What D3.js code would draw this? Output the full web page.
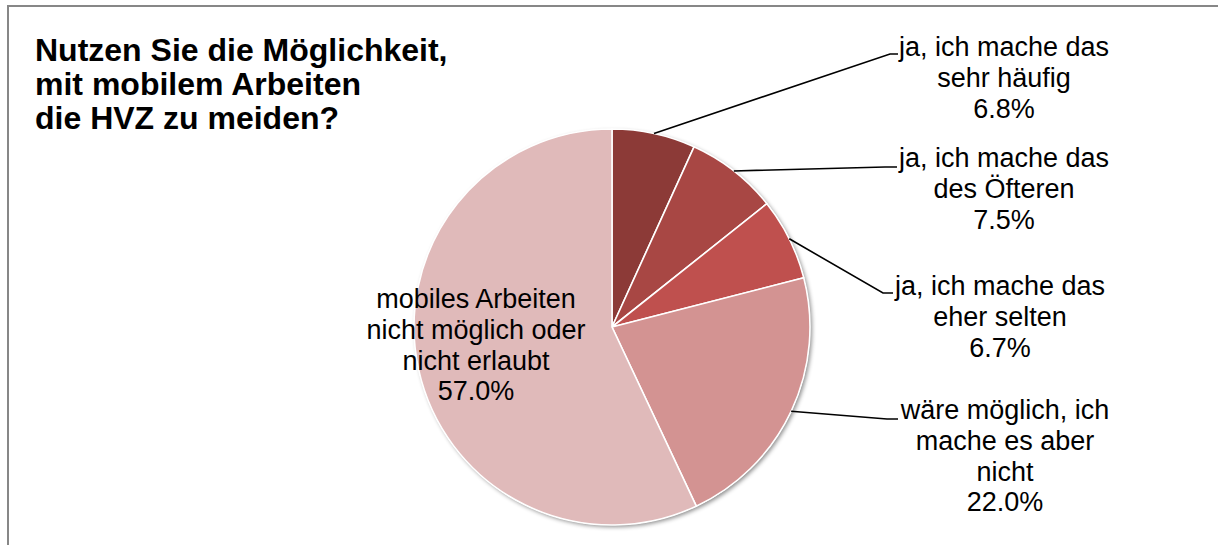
<!DOCTYPE html>
<html>
<head>
<meta charset="utf-8">
<script src="https://cdn.jsdelivr.net/npm/d3@7"></script>
<style>
  html, body { margin: 0; padding: 0; background: #fff; }
  svg { display: block; font-family: "Liberation Sans", Arial, sans-serif; }
</style>
</head>
<body>
<div id="chart"></div>
<script>
// data
var categories = [
  ["ja, ich mache das", "sehr häufig"],
  ["ja, ich mache das", "des Öfteren"],
  ["ja, ich mache das", "eher selten"],
  ["wäre möglich, ich", "mache es aber", "nicht"],
  ["mobiles Arbeiten", "nicht möglich oder", "nicht erlaubt"]
];
var shares = [6.8, 7.5, 6.7, 22.0, 57.0];
var colors = ["#8c3a37", "#a84744", "#bf504e", "#d39392", "#e0baba"];
var titleLines = ["Nutzen Sie die Möglichkeit,", "mit mobilem Arbeiten", "die HVZ zu meiden?"];

// label layout: x centre, first baseline, leader elbow (null = label inside)
var labelPos = [
  { x: 1004, y: 56, elbow: [890, 54], end: [898, 54] },
  { x: 1004, y: 167, elbow: [885, 167], end: [897, 167] },
  { x: 1000, y: 295, elbow: [883, 293], end: [893, 293] },
  { x: 1005, y: 419, elbow: [887, 419], end: [898, 419] },
  { x: 476, y: 308, elbow: null }
];

var width = 1218, height = 545;
var cx = 612, cy = 327, radius = 198;
var lineH = 30.8;

var svg = d3.select("#chart").append("svg")
    .attr("width", width)
    .attr("height", height);

var defs = svg.append("defs");
var f = defs.append("filter").attr("id", "shadow")
    .attr("x", "-10%").attr("y", "-10%").attr("width", "120%").attr("height", "120%");
f.append("feDropShadow")
    .attr("dx", 2).attr("dy", 2).attr("stdDeviation", 2)
    .attr("flood-color", "#000").attr("flood-opacity", 0.45);

// frame
svg.append("path")
    .attr("d", "M8," + height + "V6H" + width)
    .attr("fill", "none")
    .attr("stroke", "#878787")
    .attr("stroke-width", 2);

// title
var title = svg.append("text")
    .attr("x", 35)
    .attr("y", 61)
    .attr("font-size", 32)
    .attr("font-weight", "bold")
    .attr("fill", "#000");
title.selectAll("tspan").data(titleLines).enter().append("tspan")
    .attr("x", 35)
    .attr("dy", function (d, i) { return i === 0 ? 0 : 34; })
    .text(function (d) { return d; });

var data = shares.map(function (v, i) {
  return { value: v, lines: categories[i], color: colors[i], pos: labelPos[i] };
});

var pie = d3.pie().sort(null).value(function (d) { return d.value; });
var arcs = pie(data);
var arc = d3.arc().innerRadius(0).outerRadius(radius);
var edge = d3.arc().innerRadius(radius).outerRadius(radius);

var g = svg.append("g").attr("transform", "translate(" + cx + "," + cy + ")");

g.append("circle")
    .attr("r", radius)
    .attr("fill", "#fff")
    .attr("filter", "url(#shadow)");

g.selectAll(".slice").data(arcs).enter().append("path")
    .attr("class", "slice")
    .attr("d", arc)
    .attr("fill", function (d) { return d.data.color; })
    .attr("stroke", "#fff")
    .attr("stroke-width", 1.6)
    .attr("stroke-linejoin", "round");

// leader lines
svg.selectAll(".leader").data(arcs.filter(function (d) { return d.data.pos.elbow; }))
  .enter().append("polyline")
    .attr("class", "leader")
    .attr("fill", "none")
    .attr("stroke", "#000")
    .attr("stroke-width", 1.6)
    .attr("points", function (d) {
      var c = edge.centroid(d);
      return [[cx + c[0], cy + c[1]], d.data.pos.elbow, d.data.pos.end].join(" ");
    });

// labels
var labels = svg.selectAll(".label").data(arcs).enter().append("text")
    .attr("class", "label")
    .attr("text-anchor", "middle")
    .attr("font-size", 27)
    .attr("fill", "#000")
    .attr("y", function (d) { return d.data.pos.y; });

labels.selectAll("tspan")
    .data(function (d) {
      return d.data.lines.concat([d3.format(".1f")(d.data.value) + "%"])
        .map(function (t) { return { t: t, x: d.data.pos.x }; });
    })
  .enter().append("tspan")
    .attr("x", function (d) { return d.x; })
    .attr("dy", function (d, i) { return i === 0 ? 0 : lineH; })
    .text(function (d) { return d.t; });
</script>
</body>
</html>
